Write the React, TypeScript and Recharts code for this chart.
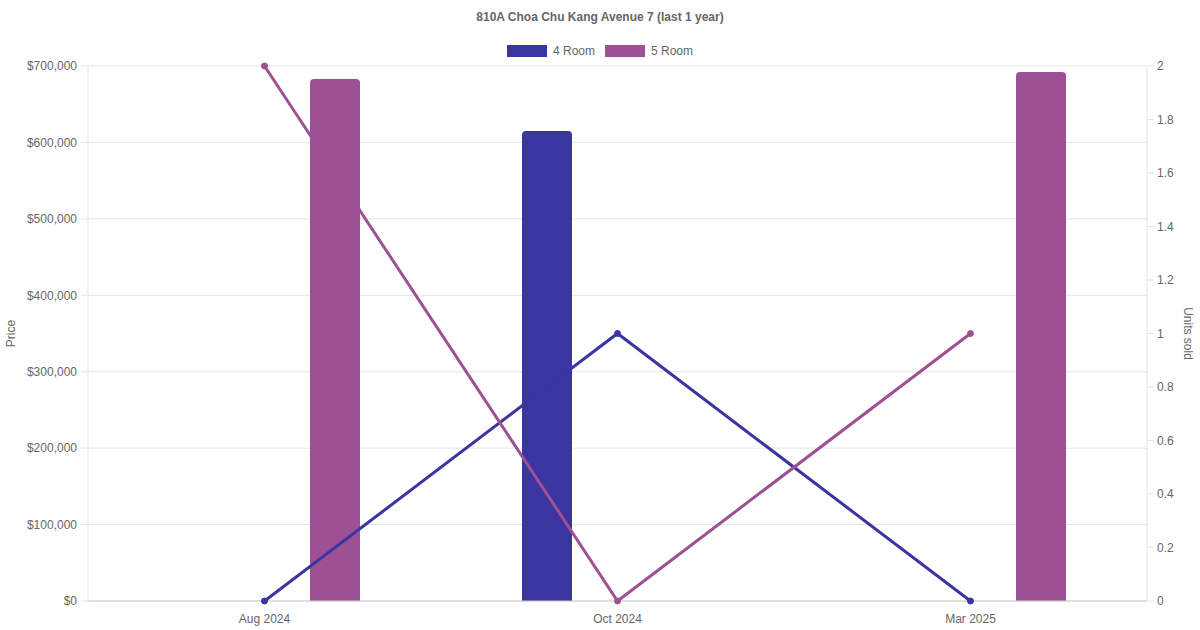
import React from 'react';
import {
  ComposedChart,
  Bar,
  Line,
  XAxis,
  YAxis,
  CartesianGrid,
  Legend,
} from 'recharts';

const title = '810A Choa Chu Kang Avenue 7 (last 1 year)';
const categories = ['Aug 2024', 'Oct 2024', 'Mar 2025'];
const seriesNames = ['4 Room', '5 Room'];
const price4Room: (number | null)[] = [null, 615000, null];
const price5Room: (number | null)[] = [683000, null, 692000];
const units4Room = [0, 1, 0];
const units5Room = [2, 0, 1];
const priceTicks = [0, 100000, 200000, 300000, 400000, 500000, 600000, 700000];
const unitTicks = [0, 0.2, 0.4, 0.6, 0.8, 1, 1.2, 1.4, 1.6, 1.8, 2];

const colors = ['#3a35a0', '#9e5094'];
const FONT = '"Liberation Sans", Arial, Helvetica, sans-serif';
const TEXT = '#666';
const GRID = '#e5e5e5';

const data = categories.map((month, i) => ({
  month,
  p4: price4Room[i],
  p5: price5Room[i],
  u4: units4Room[i],
  u5: units5Room[i],
}));

const fmtPrice = (v: number) => '$' + v.toLocaleString('en-US');
const fmtUnits = (v: number) => String(v);

const LegendContent = () => (
  <div
    style={{
      position: 'relative',
      width: 1200,
      height: 66,
      fontFamily: FONT,
      color: TEXT,
      fontSize: 12,
    }}
  >
    <div
      style={{
        position: 'absolute',
        top: 11,
        left: 0,
        width: 1200,
        textAlign: 'center',
        fontWeight: 'bold',
        lineHeight: '12px',
      }}
    >
      {title}
    </div>
    <div
      style={{
        position: 'absolute',
        top: 44.5,
        left: 0,
        width: 1200,
        height: 12,
        display: 'flex',
        justifyContent: 'center',
        alignItems: 'center',
        lineHeight: '12px',
      }}
    >
      {seriesNames.map((name, i) => (
        <div
          key={name}
          style={{
            display: 'flex',
            alignItems: 'center',
            marginRight: i < seriesNames.length - 1 ? 10 : 0,
          }}
        >
          <span
            style={{
              display: 'inline-block',
              width: 40,
              height: 12,
              background: colors[i],
              marginRight: 6,
            }}
          />
          <span>{name}</span>
        </div>
      ))}
    </div>
  </div>
);

export default function App() {
  const tickStyle = { fontSize: 12, fill: TEXT, fontFamily: FONT };
  return (
    <div
      style={{
        position: 'absolute',
        left: 0,
        top: 0,
        width: 1200,
        height: 630,
        background: '#fff',
        fontFamily: FONT,
      }}
    >
      <ComposedChart
        width={1200}
        height={630}
        data={data}
        margin={{ top: 0, right: 0, bottom: 0, left: 0 }}
        barGap={91}
      >
        <Legend
          verticalAlign="top"
          content={() => <LegendContent />}
          wrapperStyle={{ top: 0, left: 0, width: 1200, height: 66 }}
        />
        <CartesianGrid yAxisId="price" vertical={false} stroke={GRID} />
        <XAxis
          dataKey="month"
          height={29}
          interval={0}
          tickLine={false}
          tickSize={6}
          tickMargin={7}
          axisLine={{ stroke: '#cccccc' }}
          tick={tickStyle}
        />
        <YAxis
          yAxisId="price"
          width={88}
          domain={[0, 700000]}
          ticks={priceTicks}
          interval={0}
          tickFormatter={fmtPrice}
          tickSize={7}
          tickMargin={4}
          axisLine={{ stroke: GRID }}
          tickLine={{ stroke: GRID }}
          tick={tickStyle}
          label={{
            value: 'Price',
            angle: -90,
            position: 'insideLeft',
            offset: 11,
            fill: TEXT,
            fontSize: 12,
            fontFamily: FONT,
            style: { textAnchor: 'middle' },
          }}
        />
        <YAxis
          yAxisId="units"
          orientation="right"
          width={53}
          domain={[0, 2]}
          ticks={unitTicks}
          interval={0}
          tickFormatter={fmtUnits}
          tickSize={7}
          tickMargin={3}
          axisLine={{ stroke: GRID }}
          tickLine={{ stroke: GRID }}
          tick={tickStyle}
          label={{
            value: 'Units sold',
            angle: 90,
            position: 'insideRight',
            offset: 12,
            fill: TEXT,
            fontSize: 12,
            fontFamily: FONT,
            style: { textAnchor: 'middle' },
          }}
        />
        <Bar
          yAxisId="price"
          dataKey="p4"
          name="4 Room"
          fill={colors[0]}
          barSize={50}
          radius={[4, 4, 0, 0]}
          isAnimationActive={false}
        />
        <Bar
          yAxisId="price"
          dataKey="p5"
          name="5 Room"
          fill={colors[1]}
          barSize={50}
          radius={[4, 4, 0, 0]}
          isAnimationActive={false}
        />
        <Line
          yAxisId="units"
          type="linear"
          dataKey="u4"
          name="4 Room"
          stroke={colors[0]}
          strokeWidth={3}
          dot={{ r: 3, fill: colors[0], stroke: colors[0], strokeWidth: 1 }}
          activeDot={false}
          isAnimationActive={false}
        />
        <Line
          yAxisId="units"
          type="linear"
          dataKey="u5"
          name="5 Room"
          stroke={colors[1]}
          strokeWidth={3}
          dot={{ r: 3, fill: colors[1], stroke: colors[1], strokeWidth: 1 }}
          activeDot={false}
          isAnimationActive={false}
        />
      </ComposedChart>
    </div>
  );
}
